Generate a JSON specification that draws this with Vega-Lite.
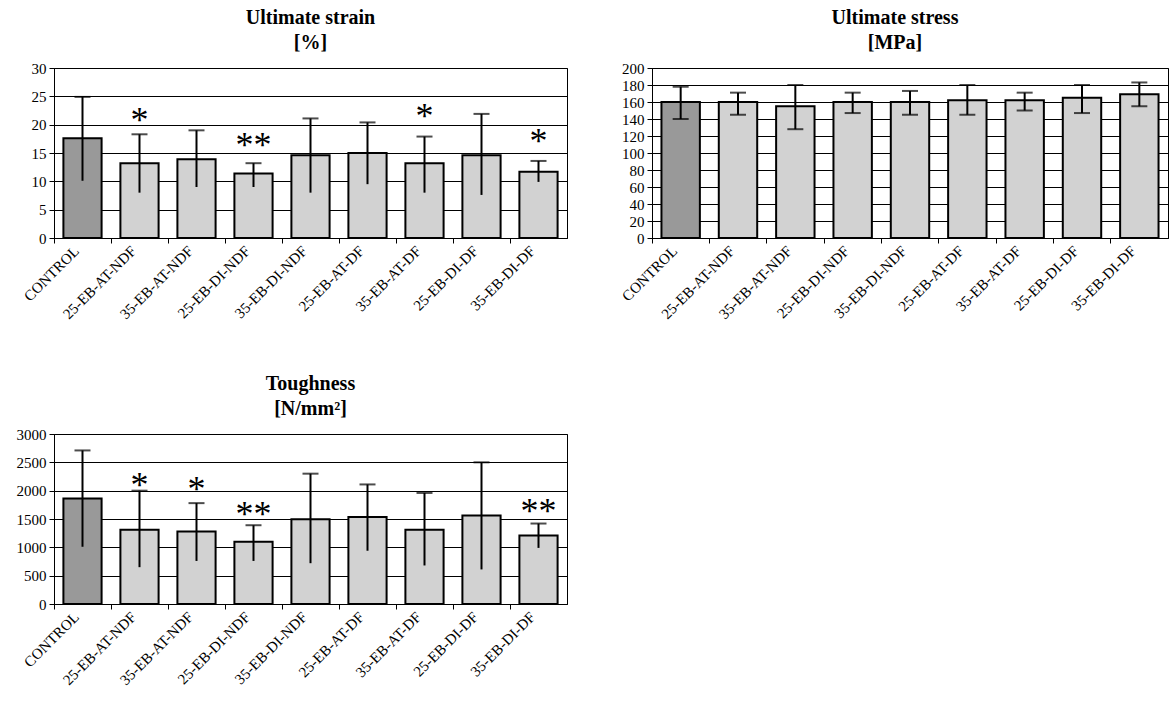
{
  "$schema": "https://vega.github.io/schema/vega-lite/v6.json",
  "padding": {"left": 13, "top": 7, "right": 0, "bottom": 0},
  "background": "white",
  "config": {
    "view": {"stroke": "black", "strokeWidth": 1},
    "title": {"font": "Liberation Serif", "fontSize": 20, "fontWeight": "bold", "color": "black", "offset": 8, "lineHeight": 25, "anchor": "middle"},
    "axis": {"labelFont": "Liberation Serif", "labelFontSize": 15, "labelColor": "black", "domainColor": "black", "tickColor": "black", "title": null, "labelOverlap": false},
    "axisY": {"grid": true, "gridColor": "black", "gridWidth": 1, "tickSize": 5, "labelPadding": 3, "minExtent": 40, "maxExtent": 40, "format": "d"},
    "axisX": {"grid": false, "labelAngle": -45, "tickSize": 5, "labelPadding": 5, "labelOffset": -6, "labelBaseline": "middle", "bandPosition": 0}
  },
  "datasets": {
    "d": [
      {"panel": "strain", "group": "CONTROL", "kind": "control", "value": 17.6, "lo": 10.1, "hi": 24.9, "star": ""},
      {"panel": "strain", "group": "25-EB-AT-NDF", "kind": "treated", "value": 13.2, "lo": 8.0, "hi": 18.3, "star": "*", "sy": 21.4},
      {"panel": "strain", "group": "35-EB-AT-NDF", "kind": "treated", "value": 13.9, "lo": 9.0, "hi": 19.0, "star": ""},
      {"panel": "strain", "group": "25-EB-DI-NDF", "kind": "treated", "value": 11.4, "lo": 9.0, "hi": 13.2, "star": "**", "sy": 16.9},
      {"panel": "strain", "group": "35-EB-DI-NDF", "kind": "treated", "value": 14.6, "lo": 8.0, "hi": 21.1, "star": ""},
      {"panel": "strain", "group": "25-EB-AT-DF", "kind": "treated", "value": 15.0, "lo": 9.5, "hi": 20.4, "star": ""},
      {"panel": "strain", "group": "35-EB-AT-DF", "kind": "treated", "value": 13.2, "lo": 8.0, "hi": 17.9, "star": "*", "sy": 22.0},
      {"panel": "strain", "group": "25-EB-DI-DF", "kind": "treated", "value": 14.6, "lo": 7.6, "hi": 21.9, "star": ""},
      {"panel": "strain", "group": "35-EB-DI-DF", "kind": "treated", "value": 11.7, "lo": 9.9, "hi": 13.6, "star": "*", "sy": 17.7},
      {"panel": "stress", "group": "CONTROL", "kind": "control", "value": 160, "lo": 140, "hi": 178, "star": ""},
      {"panel": "stress", "group": "25-EB-AT-NDF", "kind": "treated", "value": 160, "lo": 145, "hi": 171, "star": ""},
      {"panel": "stress", "group": "35-EB-AT-NDF", "kind": "treated", "value": 155, "lo": 128, "hi": 180, "star": ""},
      {"panel": "stress", "group": "25-EB-DI-NDF", "kind": "treated", "value": 160, "lo": 147, "hi": 171, "star": ""},
      {"panel": "stress", "group": "35-EB-DI-NDF", "kind": "treated", "value": 160, "lo": 145, "hi": 173, "star": ""},
      {"panel": "stress", "group": "25-EB-AT-DF", "kind": "treated", "value": 162, "lo": 145, "hi": 180, "star": ""},
      {"panel": "stress", "group": "35-EB-AT-DF", "kind": "treated", "value": 162, "lo": 150, "hi": 171, "star": ""},
      {"panel": "stress", "group": "25-EB-DI-DF", "kind": "treated", "value": 165, "lo": 147, "hi": 180, "star": ""},
      {"panel": "stress", "group": "35-EB-DI-DF", "kind": "treated", "value": 169, "lo": 155, "hi": 183, "star": ""},
      {"panel": "tough", "group": "CONTROL", "kind": "control", "value": 1860, "lo": 1010, "hi": 2710, "star": ""},
      {"panel": "tough", "group": "25-EB-AT-NDF", "kind": "treated", "value": 1310, "lo": 650, "hi": 2000, "star": "*", "sy": 2150},
      {"panel": "tough", "group": "35-EB-AT-NDF", "kind": "treated", "value": 1280, "lo": 760, "hi": 1780, "star": "*", "sy": 2090},
      {"panel": "tough", "group": "25-EB-DI-NDF", "kind": "treated", "value": 1100, "lo": 760, "hi": 1390, "star": "**", "sy": 1650},
      {"panel": "tough", "group": "35-EB-DI-NDF", "kind": "treated", "value": 1495, "lo": 720, "hi": 2300, "star": ""},
      {"panel": "tough", "group": "25-EB-AT-DF", "kind": "treated", "value": 1535, "lo": 940, "hi": 2110, "star": ""},
      {"panel": "tough", "group": "35-EB-AT-DF", "kind": "treated", "value": 1310, "lo": 680, "hi": 1960, "star": ""},
      {"panel": "tough", "group": "25-EB-DI-DF", "kind": "treated", "value": 1560, "lo": 610, "hi": 2500, "star": ""},
      {"panel": "tough", "group": "35-EB-DI-DF", "kind": "treated", "value": 1210, "lo": 990, "hi": 1420, "star": "**", "sy": 1700}
    ]
  },
  "vconcat": [
    {
      "hconcat": [
        {
          "data": {"name": "d"},
          "transform": [{"filter": "datum.panel == 'strain'"}],
          "width": 513, "height": 170,
          "title": {"text": ["Ultimate strain", "[%]"]},
          "encoding": {
            "x": {"field": "group", "type": "nominal", "sort": ["CONTROL","25-EB-AT-NDF","35-EB-AT-NDF","25-EB-DI-NDF","35-EB-DI-NDF","25-EB-AT-DF","35-EB-AT-DF","25-EB-DI-DF","35-EB-DI-DF"], "scale": {"paddingInner": 0, "paddingOuter": 0}}
          },
          "layer": [
            {"mark": {"type": "bar", "width": {"band": 0.67}, "stroke": "black", "strokeWidth": 2},
             "encoding": {"y": {"field": "value", "type": "quantitative", "scale": {"domain": [0, 30]}, "axis": {"values": [0,5,10,15,20,25,30]}},
                          "fill": {"field": "kind", "type": "nominal", "scale": {"domain": ["control","treated"], "range": ["#999999","#d2d2d2"]}, "legend": null}}},
            {"mark": {"type": "rule", "color": "black", "strokeWidth": 2}, "encoding": {"y": {"field": "lo", "type": "quantitative", "scale": {"domain": [0, 30]}, "axis": {"values": [0,5,10,15,20,25,30]}}, "y2": {"field": "hi"}}},
            {"mark": {"type": "tick", "color": "black", "size": 16, "thickness": 2}, "encoding": {"y": {"field": "hi", "type": "quantitative", "scale": {"domain": [0, 30]}, "axis": {"values": [0,5,10,15,20,25,30]}}}},
            {"transform": [{"filter": "datum.star != ''"}], "mark": {"type": "text", "font": "Liberation Serif", "fontSize": 36, "baseline": "middle", "dy": 4, "color": "black"}, "encoding": {"y": {"field": "sy", "type": "quantitative", "scale": {"domain": [0, 30]}, "axis": {"values": [0,5,10,15,20,25,30]}}, "text": {"field": "star"}}}
          ]
        },
        {
          "data": {"name": "d"},
          "transform": [{"filter": "datum.panel == 'stress'"}],
          "width": 516, "height": 170,
          "title": {"text": ["Ultimate stress", "[MPa]"], "dx": -15},
          "encoding": {
            "x": {"field": "group", "type": "nominal", "sort": ["CONTROL","25-EB-AT-NDF","35-EB-AT-NDF","25-EB-DI-NDF","35-EB-DI-NDF","25-EB-AT-DF","35-EB-AT-DF","25-EB-DI-DF","35-EB-DI-DF"], "scale": {"paddingInner": 0, "paddingOuter": 0}}
          },
          "layer": [
            {"mark": {"type": "bar", "width": {"band": 0.67}, "stroke": "black", "strokeWidth": 2},
             "encoding": {"y": {"field": "value", "type": "quantitative", "scale": {"domain": [0, 200]}, "axis": {"values": [0,20,40,60,80,100,120,140,160,180,200]}},
                          "fill": {"field": "kind", "type": "nominal", "scale": {"domain": ["control","treated"], "range": ["#999999","#d2d2d2"]}, "legend": null}}},
            {"mark": {"type": "rule", "color": "black", "strokeWidth": 2}, "encoding": {"y": {"field": "lo", "type": "quantitative", "scale": {"domain": [0, 200]}, "axis": {"values": [0,20,40,60,80,100,120,140,160,180,200]}}, "y2": {"field": "hi"}}},
            {"mark": {"type": "tick", "color": "black", "size": 16, "thickness": 2}, "encoding": {"y": {"field": "hi", "type": "quantitative", "scale": {"domain": [0, 200]}, "axis": {"values": [0,20,40,60,80,100,120,140,160,180,200]}}}},
            {"mark": {"type": "tick", "color": "black", "size": 16, "thickness": 2}, "encoding": {"y": {"field": "lo", "type": "quantitative", "scale": {"domain": [0, 200]}, "axis": {"values": [0,20,40,60,80,100,120,140,160,180,200]}}}}
          ]
        }
      ],
      "spacing": 43
    },
    {
      "data": {"name": "d"},
      "transform": [{"filter": "datum.panel == 'tough'"}],
      "width": 513, "height": 170,
      "title": {"text": ["Toughness", "[N/mm²]"]},
      "encoding": {
        "x": {"field": "group", "type": "nominal", "sort": ["CONTROL","25-EB-AT-NDF","35-EB-AT-NDF","25-EB-DI-NDF","35-EB-DI-NDF","25-EB-AT-DF","35-EB-AT-DF","25-EB-DI-DF","35-EB-DI-DF"], "scale": {"paddingInner": 0, "paddingOuter": 0}}
      },
      "layer": [
        {"mark": {"type": "bar", "width": {"band": 0.67}, "stroke": "black", "strokeWidth": 2},
         "encoding": {"y": {"field": "value", "type": "quantitative", "scale": {"domain": [0, 3000]}, "axis": {"values": [0,500,1000,1500,2000,2500,3000]}},
                      "fill": {"field": "kind", "type": "nominal", "scale": {"domain": ["control","treated"], "range": ["#999999","#d2d2d2"]}, "legend": null}}},
        {"mark": {"type": "rule", "color": "black", "strokeWidth": 2}, "encoding": {"y": {"field": "lo", "type": "quantitative", "scale": {"domain": [0, 3000]}, "axis": {"values": [0,500,1000,1500,2000,2500,3000]}}, "y2": {"field": "hi"}}},
        {"mark": {"type": "tick", "color": "black", "size": 16, "thickness": 2}, "encoding": {"y": {"field": "hi", "type": "quantitative", "scale": {"domain": [0, 3000]}, "axis": {"values": [0,500,1000,1500,2000,2500,3000]}}}},
        {"transform": [{"filter": "datum.star != ''"}], "mark": {"type": "text", "font": "Liberation Serif", "fontSize": 36, "baseline": "middle", "dy": 4, "color": "black"}, "encoding": {"y": {"field": "sy", "type": "quantitative", "scale": {"domain": [0, 3000]}, "axis": {"values": [0,500,1000,1500,2000,2500,3000]}}, "text": {"field": "star"}}}
      ]
    }
  ],
  "spacing": 50
}
